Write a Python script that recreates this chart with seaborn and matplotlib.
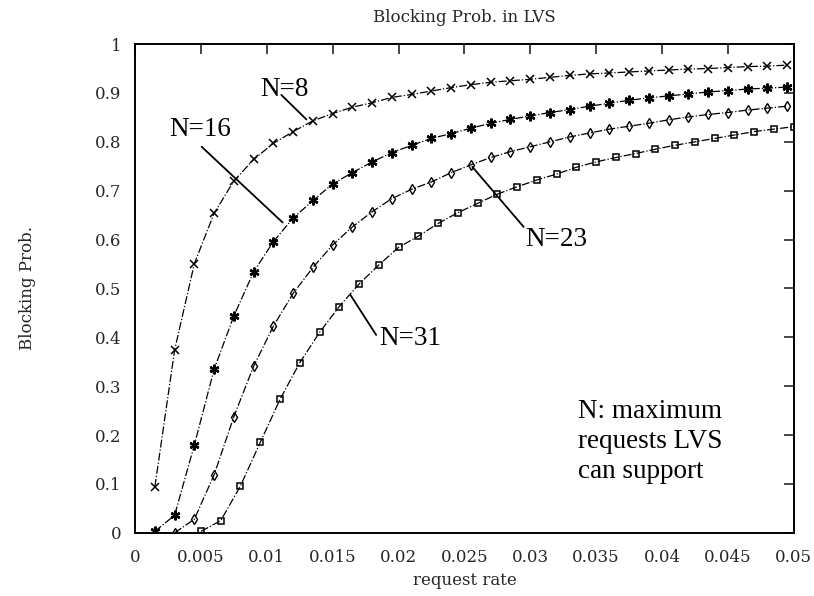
import matplotlib
matplotlib.use("Agg")
import matplotlib.pyplot as plt
import seaborn as sns

# request rates for the N=8 / N=16 curves
X_MAIN = [0.0015, 0.003, 0.0045, 0.006, 0.0075, 0.009, 0.0105, 0.012, 0.0135,
          0.015, 0.0165, 0.018, 0.0195, 0.021, 0.0225, 0.024, 0.0255, 0.027,
          0.0285, 0.03, 0.0315, 0.033, 0.0345, 0.036, 0.0375, 0.039, 0.0405,
          0.042, 0.0435, 0.045, 0.0465, 0.048, 0.0495]
# N=23 starts one step later
X_N23 = X_MAIN[1:]
# N=31 uses its own grid
X_N31 = [0.005, 0.0065, 0.008, 0.0095, 0.011, 0.0125, 0.014, 0.0155, 0.017,
         0.0185, 0.02, 0.0215, 0.023, 0.0245, 0.026, 0.0275, 0.029, 0.0305,
         0.032, 0.0335, 0.035, 0.0365, 0.038, 0.0395, 0.041, 0.0425, 0.044,
         0.0455, 0.047, 0.0485, 0.05]

N8 = [0.094, 0.374, 0.551, 0.654, 0.72, 0.764, 0.797, 0.821, 0.843, 0.858,
      0.871, 0.88, 0.891, 0.897, 0.904, 0.911, 0.917, 0.922, 0.925, 0.928,
      0.932, 0.936, 0.939, 0.941, 0.943, 0.945, 0.947, 0.949, 0.95, 0.952,
      0.954, 0.955, 0.957]
N16 = [0.003, 0.036, 0.18, 0.335, 0.444, 0.534, 0.596, 0.644, 0.68, 0.714,
       0.737, 0.759, 0.778, 0.793, 0.807, 0.817, 0.828, 0.838, 0.846, 0.853,
       0.86, 0.866, 0.873, 0.879, 0.885, 0.89, 0.894, 0.898, 0.902, 0.905,
       0.908, 0.91, 0.912]
N23 = [0.0, 0.028, 0.119, 0.238, 0.341, 0.423, 0.49, 0.543, 0.589, 0.626,
       0.657, 0.684, 0.703, 0.718, 0.737, 0.753, 0.768, 0.78, 0.79, 0.8,
       0.81, 0.818, 0.826, 0.832, 0.838, 0.845, 0.851, 0.856, 0.86, 0.865,
       0.869, 0.873]
N31 = [0.003, 0.025, 0.096, 0.185, 0.273, 0.348, 0.41, 0.463, 0.509, 0.548,
       0.584, 0.607, 0.633, 0.655, 0.674, 0.693, 0.708, 0.722, 0.734, 0.748,
       0.759, 0.768, 0.776, 0.785, 0.793, 0.8, 0.807, 0.814, 0.821, 0.826,
       0.831]

X_TICKS = [0, 0.005, 0.01, 0.015, 0.02, 0.025, 0.03, 0.035, 0.04, 0.045, 0.05]
X_TICK_LABELS = ["0", "0.005", "0.01", "0.015", "0.02", "0.025", "0.03",
                 "0.035", "0.04", "0.045", "0.05"]
Y_TICKS = [0, 0.1, 0.2, 0.3, 0.4, 0.5, 0.6, 0.7, 0.8, 0.9, 1]
Y_TICK_LABELS = ["0", "0.1", "0.2", "0.3", "0.4", "0.5", "0.6", "0.7", "0.8",
                 "0.9", "1"]

# curve labels: text, text centre, leader line start, leader line end
CURVE_LABELS = [
    ("N=8",  (0.01136, 0.908), (0.0111, 0.896), (0.0130, 0.846)),
    ("N=16", (0.00492, 0.826), (0.00505, 0.790), (0.0112, 0.635)),
    ("N=23", (0.0320, 0.601), (0.0295, 0.626), (0.0256, 0.749)),
    ("N=31", (0.0209, 0.397), (0.0183, 0.405), (0.01634, 0.487)),
]

sns.set_style("white")
plt.rcParams["font.family"] = ["DejaVu Serif"]

fig = plt.figure(figsize=(8.14, 5.96), dpi=100)
ax = fig.add_axes([0.166, 0.106, 0.809, 0.820])

line_kw = dict(color="black", linestyle="-.", linewidth=0.9,
               markeredgecolor="black", ax=ax, legend=False)

sns.lineplot(x=X_MAIN, y=N8, marker="x", markersize=6, markeredgewidth=1.1,
             **line_kw)
sns.lineplot(x=X_MAIN, y=N16, marker=(6, 2, 0), markersize=7,
             markeredgewidth=1.7, **line_kw)
sns.lineplot(x=X_N23, y=N23, marker="d", markersize=5, markeredgewidth=1.0,
             fillstyle="none", **line_kw)
sns.lineplot(x=X_N31, y=N31, marker="s", markersize=5, markeredgewidth=1.1,
             fillstyle="none", **line_kw)

ax.set_xlim(0, 0.05)
ax.set_ylim(0, 1)
ax.set_xticks(X_TICKS)
ax.set_xticklabels(X_TICK_LABELS)
ax.set_yticks(Y_TICKS)
ax.set_yticklabels(Y_TICK_LABELS)
ax.tick_params(direction="in", length=7, width=1.2, labelsize=12,
               top=True, right=True)
ax.tick_params(axis="x", pad=12)
ax.tick_params(axis="y", pad=10)
for side in ax.spines.values():
    side.set_linewidth(1.4)
    side.set_color("black")

ax.set_title("Blocking Prob. in LVS", fontsize=12, pad=16)
ax.set_xlabel("request rate", fontsize=12, labelpad=4)
ax.set_ylabel("Blocking Prob.", fontsize=12, labelpad=42)

note_font = dict(family="Liberation Serif", fontsize=19.5, color="black")
for label, text_xy, start, end in CURVE_LABELS:
    ax.text(text_xy[0], text_xy[1], label, ha="center", va="center",
            **note_font)
    ax.annotate("", xy=end, xytext=start,
                arrowprops=dict(arrowstyle="-", lw=1.3, color="black",
                                shrinkA=0, shrinkB=0))

ax.text(0.0336, 0.187, "N: maximum\nrequests LVS\ncan support",
        ha="left", va="center", linespacing=1.28, **note_font)

fig.savefig("out.png", dpi=100)
